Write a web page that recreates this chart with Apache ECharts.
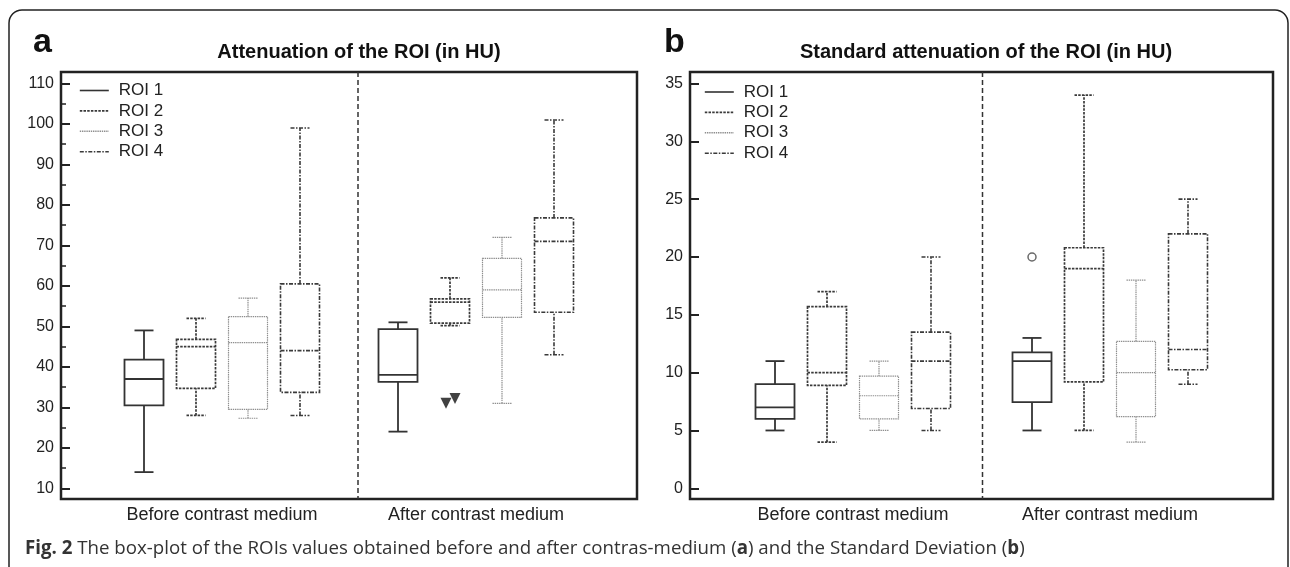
<!DOCTYPE html>
<html>
<head>
<meta charset="utf-8">
<title>ROI box-plots</title>
<script src="https://cdn.jsdelivr.net/npm/echarts@6/dist/echarts.min.js"></script>
<style type="text/css">
    html, body { margin: 0; padding: 0; background: #fff; }
    #chart { width: 1290px; height: 567px; }
</style>
</head>
<body>
<div id="chart"></div>
<script type="text/javascript">
// categories (x axis)
var categories = ['Before contrast medium', 'After contrast medium'];
var roiNames = ['ROI 1', 'ROI 2', 'ROI 3', 'ROI 4'];

// panel a : attenuation (HU) -- [min, Q1, median, Q3, max] before / after
var attRoi1 = [[14, 30.5, 37, 41.8, 49], [24, 36.3, 38, 49.3, 51]];
var attRoi2 = [[28, 34.7, 45, 46.8, 52], [50.2, 50.8, 56, 56.8, 62]];
var attRoi3 = [[27.3, 29.5, 46, 52.4, 57], [31, 52.2, 59, 66.8, 72]];
var attRoi4 = [[28, 33.7, 44, 60.5, 99], [43, 53.5, 71, 76.8, 101]];
// outliers of ROI 2 after contrast (category index, value)
var attOutRoi2 = [[1, 31], [1, 32.2]];

// panel b : standard attenuation (HU)
var sdRoi1 = [[5, 6, 7, 9, 11], [5, 7.45, 11, 11.75, 13]];
var sdRoi2 = [[4, 8.9, 10, 15.7, 17], [5, 9.2, 19, 20.8, 34]];
var sdRoi3 = [[5, 6, 8, 9.7, 11], [4, 6.2, 10, 12.7, 18]];
var sdRoi4 = [[5, 6.9, 11, 13.5, 20], [9, 10.25, 12, 22, 25]];
// outlier of ROI 1 after contrast
var sdOutRoi1 = [[1, 20]];

// axis ticks
var attTicks = { min: 10, max: 110, interval: 10 };
var sdTicks = { min: 0, max: 35, interval: 5 };

var FONT = '"Liberation Sans", Arial, Helvetica, sans-serif';
var CAP_FONT = '"Open Sans", "Noto Sans", sans-serif';
var INK = '#222';
var BOX_SPACING = 52;   // px between boxes in one group
var BOX_W = 39;
var CAP_W = 19;

// line look of each ROI
var roiStyles = [
    { stroke: '#333', lineWidth: 1.8, lineDash: null },
    { stroke: '#3a3a3a', lineWidth: 1.7, lineDash: [2.5, 1.2] },
    { stroke: '#8e8e8e', lineWidth: 1.2, lineDash: [1.4, 0.8] },
    { stroke: '#3a3a3a', lineWidth: 1.6, lineDash: [4, 1.5, 1.5, 1.5] }
];

function lineType(s) {
    return s.lineDash ? s.lineDash : 'solid';
}

function boxRenderer(roiIdx) {
    var st = roiStyles[roiIdx];
    return function (params, api) {
        var cat = api.value(0);
        var x = api.coord([cat, api.value(3)])[0] + (roiIdx - 1.5) * BOX_SPACING;
        var y = [1, 2, 3, 4, 5].map(function (d) {
            return api.coord([cat, api.value(d)])[1];
        });
        var style = { stroke: st.stroke, lineWidth: st.lineWidth, lineDash: st.lineDash, fill: 'none' };
        var hw = BOX_W / 2, cw = CAP_W / 2;
        return {
            type: 'group',
            children: [
                { type: 'line', shape: { x1: x, y1: y[0], x2: x, y2: y[1] }, style: style },
                { type: 'line', shape: { x1: x, y1: y[3], x2: x, y2: y[4] }, style: style },
                { type: 'line', shape: { x1: x - cw, y1: y[0], x2: x + cw, y2: y[0] }, style: style },
                { type: 'line', shape: { x1: x - cw, y1: y[4], x2: x + cw, y2: y[4] }, style: style },
                { type: 'rect', shape: { x: x - hw, y: y[3], width: BOX_W, height: y[1] - y[3] }, style: style },
                { type: 'line', shape: { x1: x - hw, y1: y[2], x2: x + hw, y2: y[2] }, style: style }
            ]
        };
    };
}

function withCat(rows) {
    return rows.map(function (r, i) { return [i].concat(r); });
}

var series = [];
// legend carriers (empty line series, so legend shows line samples)
roiNames.forEach(function (name, i) {
    series.push({
        name: name, type: 'line', data: [], symbol: 'none',
        xAxisIndex: 0, yAxisIndex: 0,
        lineStyle: { color: roiStyles[i].stroke, width: roiStyles[i].lineWidth, type: lineType(roiStyles[i]) }
    });
});

[attRoi1, attRoi2, attRoi3, attRoi4].forEach(function (rows, i) {
    series.push({
        name: roiNames[i], type: 'custom', xAxisIndex: 0, yAxisIndex: 0,
        renderItem: boxRenderer(i), encode: { x: 0, y: [1, 2, 3, 4, 5] },
        data: withCat(rows)
    });
});
[sdRoi1, sdRoi2, sdRoi3, sdRoi4].forEach(function (rows, i) {
    series.push({
        name: roiNames[i], type: 'custom', xAxisIndex: 1, yAxisIndex: 1,
        renderItem: boxRenderer(i), encode: { x: 0, y: [1, 2, 3, 4, 5] },
        data: withCat(rows)
    });
});

// outliers
var jitter = [-4, 5];
series.push({
    name: 'ROI 2', type: 'scatter', xAxisIndex: 0, yAxisIndex: 0,
    symbol: 'triangle', symbolRotate: 180, symbolSize: 11,
    itemStyle: { color: '#111' },
    data: attOutRoi2.map(function (p, k) {
        return { value: p, symbolOffset: [(1 - 1.5) * BOX_SPACING + jitter[k], 0] };
    })
});
series.push({
    name: 'ROI 1', type: 'scatter', xAxisIndex: 1, yAxisIndex: 1,
    symbol: 'circle', symbolSize: 8, symbolOffset: [(0 - 1.5) * BOX_SPACING, 0],
    itemStyle: { color: '#fff', borderColor: '#444', borderWidth: 1.5 },
    data: sdOutRoi1
});

function xAxisOf(gridIndex) {
    return {
        type: 'category', gridIndex: gridIndex, data: categories, offset: 11,
        axisLine: { show: false },
        axisTick: { inside: true, alignWithLabel: true, length: 9, lineStyle: { color: INK, width: 2 } },
        axisLabel: { margin: 7, fontSize: 18, color: INK, fontFamily: FONT },
        splitLine: { show: false }
    };
}

function yAxisOf(gridIndex, ticks, offset, minor) {
    return {
        type: 'value', gridIndex: gridIndex, min: ticks.min, max: ticks.max, interval: ticks.interval,
        offset: offset,
        axisLine: { show: false },
        axisTick: { show: true, inside: true, length: 9, lineStyle: { color: INK, width: 2 } },
        minorTick: { show: minor, splitNumber: 2, length: 5, lineStyle: { color: INK, width: 1.5 } },
        axisLabel: { margin: 7, fontSize: 16, color: INK, fontFamily: FONT },
        splitLine: { show: false }
    };
}

function legendOf(left, top) {
    return {
        data: roiNames, orient: 'vertical', left: left, top: top, padding: 0,
        itemWidth: 29, itemHeight: 14, itemGap: 3.4, selectedMode: false,
        itemStyle: { opacity: 0 },
        lineStyle: { width: 1.6 },
        textStyle: { fontSize: 17, color: INK, fontFamily: FONT, padding: [0, 0, 0, 5] }
    };
}

var frameStyle = { fill: 'none', stroke: INK, lineWidth: 2.5 };
var sepStyle = { stroke: '#333', lineWidth: 1.5, lineDash: [5, 3] };

var option = {
    animation: false,
    backgroundColor: '#fff',
    title: [
        { text: 'Attenuation of the ROI (in HU)', left: 359, top: 42, textAlign: 'center', padding: 0,
          textStyle: { fontSize: 20, fontWeight: 'bold', color: '#111', fontFamily: FONT } },
        { text: 'Standard attenuation of the ROI (in HU)', left: 986, top: 42, textAlign: 'center', padding: 0,
          textStyle: { fontSize: 20, fontWeight: 'bold', color: '#111', fontFamily: FONT } }
    ],
    legend: [legendOf(79, 82), legendOf(704, 83.5)],
    grid: [
        { left: 95, right: 687, top: 83.5, bottom: 78.7 },
        { left: 724.5, right: 51.5, top: 83.5, bottom: 78.7 }
    ],
    xAxis: [xAxisOf(0), xAxisOf(1)],
    yAxis: [yAxisOf(0, attTicks, 34, true), yAxisOf(1, sdTicks, 34.5, false)],
    series: series,
    graphic: [
        { type: 'rect', shape: { x: 9, y: 10, width: 1279, height: 572, r: 13 },
          style: { fill: 'none', stroke: '#222', lineWidth: 1.5 }, silent: true },
        { type: 'rect', shape: { x: 61, y: 72, width: 576, height: 427 }, style: frameStyle, silent: true },
        { type: 'rect', shape: { x: 690, y: 72, width: 583, height: 427 }, style: frameStyle, silent: true },
        { type: 'line', shape: { x1: 358, y1: 72, x2: 358, y2: 499 }, style: sepStyle, silent: true },
        { type: 'line', shape: { x1: 982.5, y1: 72, x2: 982.5, y2: 499 }, style: sepStyle, silent: true },
        { type: 'text', x: 33, y: 43, style: { text: 'a', font: 'bold 34px ' + FONT, fill: '#111', verticalAlign: 'middle' } },
        { type: 'text', x: 664, y: 43, style: { text: 'b', font: 'bold 34px ' + FONT, fill: '#111', verticalAlign: 'middle' } },
        { type: 'text', x: 25, y: 549,
          style: {
              text: '{b|Fig. 2} The box-plot of the ROIs values obtained before and after contras-medium ({b|a}) and the Standard Deviation ({b|b})',
              font: '18.7px ' + CAP_FONT, fill: '#333', verticalAlign: 'middle',
              rich: { b: { fontWeight: 'bold', fontSize: 18.7, fontFamily: CAP_FONT, fill: '#333' } }
          } }
    ]
};

var myChart = echarts.init(document.getElementById('chart'));
myChart.setOption(option);
</script>
</body>
</html>
